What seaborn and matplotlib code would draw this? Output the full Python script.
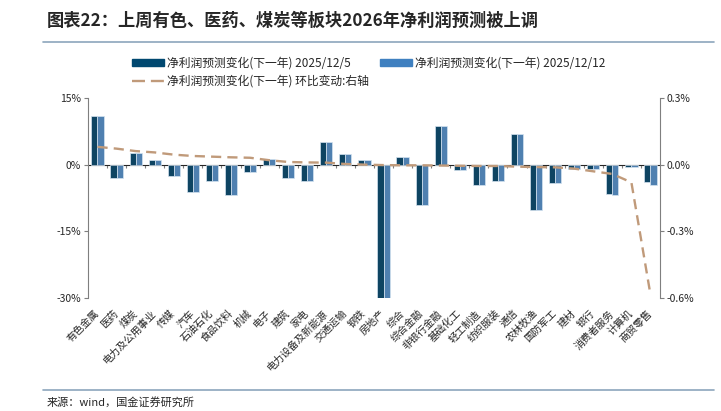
import numpy as np
import pandas as pd
import matplotlib
matplotlib.use("Agg")
import matplotlib.pyplot as plt
import matplotlib.patches as mpatches
import matplotlib.lines as mlines
import seaborn as sns

# data
sectors = ["有色金属", "医药", "煤炭", "电力及公用事业", "传媒", "汽车", "石油石化", "食品饮料",
           "机械", "电子", "建筑", "家电", "电力设备及新能源", "交通运输", "钢铁", "房地产",
           "综合", "综合金融", "非银行金融", "基础化工", "轻工制造", "纺织服装", "通信",
           "农林牧渔", "国防军工", "建材", "银行", "消费者服务", "计算机", "商贸零售"]
chg_1205 = [10.9, -3.0, 2.6, 1.1, -2.5, -6.1, -3.7, -6.8, -1.6, 1.3, -3.1, -3.6, 5.0, 2.4, 1.1,
            -30.5, 1.7, -9.0, 8.8, -1.3, -4.5, -3.75, 7.0, -10.1, -4.1, -0.9, -0.9, -6.7, -0.55, -4.0]
chg_1212 = [10.9, -3.0, 2.6, 1.1, -2.5, -6.1, -3.7, -6.8, -1.6, 1.3, -3.1, -3.6, 5.0, 2.4, 1.1,
            -30.5, 1.7, -9.0, 8.8, -1.3, -4.5, -3.75, 7.0, -10.1, -4.1, -0.9, -0.9, -6.75, -0.6, -4.55]
wow_diff = [0.080, 0.072, 0.061, 0.055, 0.045, 0.039, 0.036, 0.033, 0.031, 0.020, 0.012, 0.010,
            0.009, 0.003, 0.000, -0.002, -0.003, -0.003, -0.004, -0.005, -0.006, -0.006, -0.009,
            -0.011, -0.012, -0.018, -0.030, -0.042, -0.080, -0.585]

lab_a = "净利润预测变化(下一年) 2025/12/5"
lab_b = "净利润预测变化(下一年) 2025/12/12"
lab_c = "净利润预测变化(下一年) 环比变动:右轴"

df = pd.DataFrame({
    "sector": sectors * 2,
    "value": chg_1205 + chg_1212,
    "series": [lab_a] * len(sectors) + [lab_b] * len(sectors),
})

sns.set_style("white")
plt.rcParams["font.family"] = ["Noto Sans CJK SC", "DejaVu Sans"]
plt.rcParams["axes.unicode_minus"] = False

dark = "#004870"
light = "#3F80C0"
tan = "#C09A7A"

fig = plt.figure(figsize=(7.21, 4.11), dpi=100)
ax = fig.add_axes([0.122, 0.275, 0.7934, 0.4866])

sns.barplot(data=df, x="sector", y="value", hue="series", order=sectors,
            palette=[dark, light], width=0.64, gap=0, edgecolor="#D5E3F0", linewidth=0.5,
            legend=False, ax=ax)

ax.set_xlim(-0.5, len(sectors) - 0.5)
ax.set_ylim(-30, 15)
ax.set_yticks([15, 0, -15, -30])
ax.set_yticklabels(["15%", "0%", "-15%", "-30%"])
ax.set_xlabel("")
ax.set_ylabel("")
ax.set_xticks(range(len(sectors)))
ax.set_xticklabels(sectors, rotation=45, ha="right", va="center", rotation_mode="anchor",
                   fontsize=7.3)
ax.tick_params(axis="x", length=0, pad=10)
ax.tick_params(axis="y", labelsize=7.5, length=3, width=0.8, color="#7F7F7F", left=True, pad=2)
for s in ["top", "bottom", "right"]:
    ax.spines[s].set_visible(False)
ax.spines["left"].set_color("#7F7F7F")
ax.spines["left"].set_linewidth(0.8)

# zero line with small ticks between categories
zero = ax.secondary_xaxis(2 / 3)
zero.set_xticks(np.arange(0.5, len(sectors) - 1, 1))
zero.set_xticklabels([])
zero.tick_params(direction="in", length=2.5, width=0.8, color="#7F7F7F")
zero.spines["bottom"].set_color("black")
zero.spines["bottom"].set_linewidth(0.9)

ax2 = ax.twinx()
sns.lineplot(x=np.arange(len(sectors)), y=wow_diff, ax=ax2, color=tan, linewidth=1.7,
             dashes=False, legend=False)
ax2.lines[0].set_dashes([4.3, 2.6])
ax2.set_ylim(-0.6, 0.3)
ax2.set_yticks([0.3, 0.0, -0.3, -0.6])
ax2.set_yticklabels(["0.3%", "0.0%", "-0.3%", "-0.6%"])
ax2.tick_params(axis="y", labelsize=7.5, length=3, width=0.8, color="#7F7F7F", right=True, pad=2)
for s in ["top", "bottom", "left"]:
    ax2.spines[s].set_visible(False)
ax2.spines["right"].set_color("#7F7F7F")
ax2.spines["right"].set_linewidth(0.8)

handles = [mpatches.Patch(color=dark), mlines.Line2D([], [], color=tan, lw=1.7, dashes=[5.5, 2.5]),
           mpatches.Patch(color=light)]
fig.legend(handles, [lab_a, lab_c, lab_b], ncol=2, loc="upper left",
           bbox_to_anchor=(0.168, 0.888), frameon=False, fontsize=8.5, handlelength=2.7,
           handleheight=0.65, columnspacing=0.9, labelspacing=0.45, handletextpad=0.3)

# title, rules and source
fig.text(0.065, 0.948, "图表22：上周有色、医药、煤炭等板块2026年净利润预测被上调",
         fontsize=12.4, fontweight="bold", fontstyle="italic", va="center")
fig.add_artist(mlines.Line2D([0.06, 0.99], [0.898, 0.898], color="#8CA6BC", lw=1.2))
fig.add_artist(mlines.Line2D([0.06, 0.99], [0.051, 0.051], color="#8CA6BC", lw=1.2))
fig.text(0.065, 0.022, "来源：wind，国金证券研究所", fontsize=8, va="center")

fig.savefig("out.png", dpi=100)
